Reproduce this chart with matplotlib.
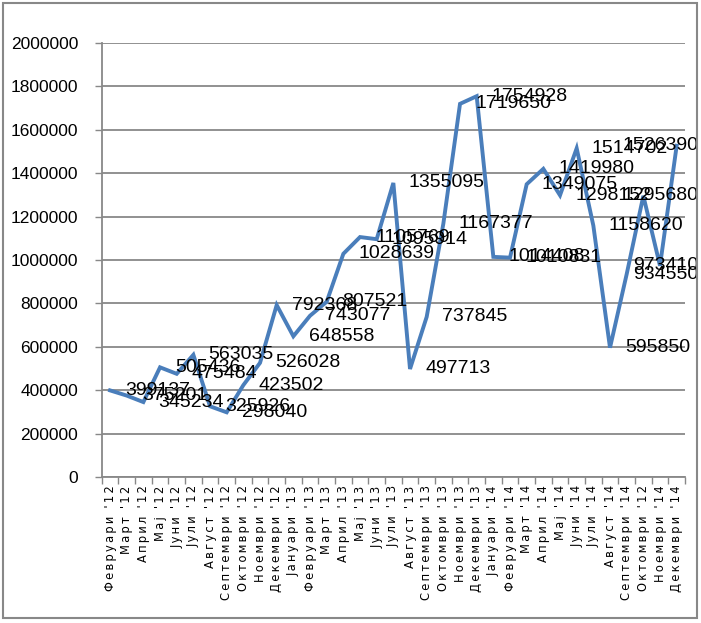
import numpy as np
import matplotlib
matplotlib.use("Agg")
import matplotlib.pyplot as plt
from matplotlib.patches import Rectangle

months = ["Февруари '12", "Март '12", "Април '12", "Мај '12", "Јуни '12", "Јули '12",
          "Август '12", "Септември '12", "Октомври '12", "Ноември '12", "Декември '12",
          "Јануари '13", "Февруари '13", "Март '13", "Април '13", "Мај '13", "Јуни '13",
          "Јули '13", "Август '13", "Септември '13", "Октомври '13", "Ноември '13",
          "Декември '13", "Јануари '14", "Февруари '14", "Март '14", "Април '14",
          "Мај '14", "Јуни '14", "Јули '14", "Август '14", "Септември '14",
          "Октомври '12", "Ноември '14", "Декември '14"]

values = [399137, 375201, 345234, 505436, 475484, 563035, 325926, 298040, 423502,
          526028, 792368, 648558, 743077, 807521, 1028639, 1105769, 1095914, 1355095,
          497713, 737845, 1167377, 1719650, 1754928, 1014408, 1010831, 1349075,
          1419980, 1298152, 1514702, 1158620, 595850, 934550, 1295680, 973410, 1526390]

yticks = list(range(0, 2000001, 200000))

num_font = "Liberation Sans"

W, H = 701, 623
fig = plt.figure(figsize=(W / 100, H / 100), dpi=100)
ax = fig.add_axes([101.7 / W, 1 - 477 / H, (685 - 101.7) / W, (477 - 43) / H])

grey = "#888888"
x = np.arange(len(values))
ax.plot(x, values, color="#4a7ebb", lw=2.8, solid_joinstyle="miter", zorder=3)

ax.set_xlim(-0.5, len(values) - 0.5)
ax.set_ylim(0, 2000000)
ax.set_yticks(yticks)
ax.set_yticklabels([str(v) for v in yticks], fontfamily=num_font, fontsize=12.5)
ax.grid(axis="y", color=grey, lw=1.3)
ax.set_axisbelow(True)

# spaced-out month labels (letter spacing like the original)
spaced = ["\u2009".join(m) for m in months]
ax.set_xticks(x)
ax.set_xticklabels(spaced, rotation=90, fontsize=8.3, fontfamily="DejaVu Sans")
ax.set_xticks(np.arange(-0.5, len(values), 1), minor=True)
ax.tick_params(axis="x", which="major", length=0, pad=6)
ax.tick_params(axis="x", which="minor", length=5, color=grey, width=1)
ax.tick_params(axis="y", length=5, color=grey, width=1, pad=12)

for s in ["top", "right"]:
    ax.spines[s].set_visible(False)
for s in ["left", "bottom"]:
    ax.spines[s].set_color(grey)
    ax.spines[s].set_linewidth(1.3)

# data labels to the right of each point
anns = []
for xi, v in zip(x, values):
    a = ax.annotate(str(v), (xi, v), xytext=(11, 0), textcoords="offset points",
                    va="center", ha="left", fontfamily=num_font, fontsize=14,
                    zorder=4, annotation_clip=False)
    anns.append(a)

# keep labels inside the chart frame like Excel does
fig.canvas.draw()
r = fig.canvas.get_renderer()
for a in anns:
    ext = a.get_window_extent(r)
    over = ext.x1 - 698
    if over > 0:
        a.xyann = (11 - over * 72 / 100, 0)

fig.patches.append(Rectangle((3 / W, 5 / H), 694 / W, 615 / H, transform=fig.transFigure,
                             fill=False, edgecolor=grey, lw=1.5))

fig.savefig("out.png", dpi=100)
